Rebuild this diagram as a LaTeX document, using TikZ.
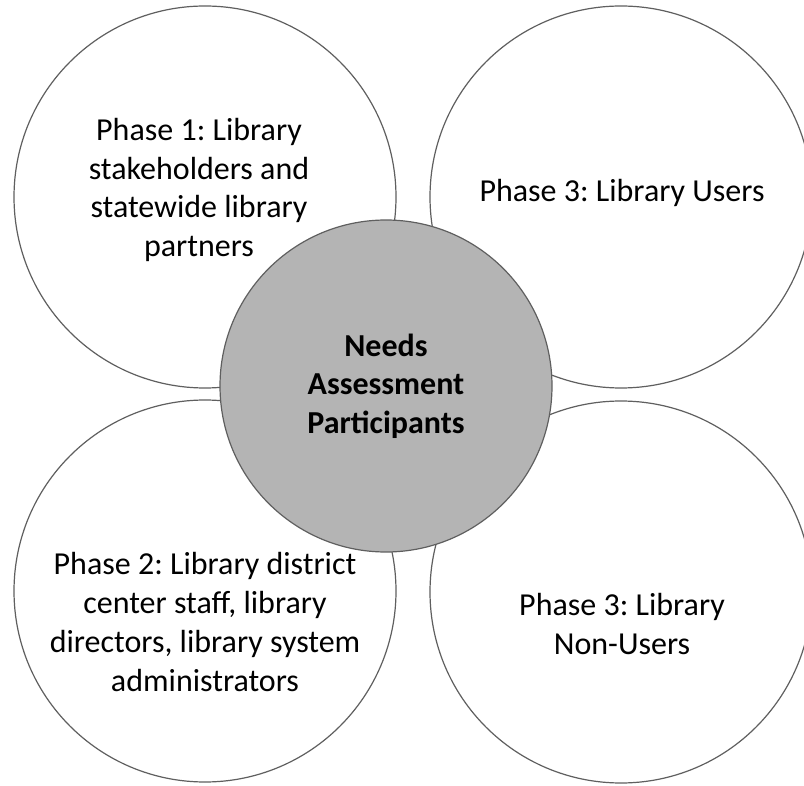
\documentclass[tikz,border=0pt]{standalone}
\usepackage{fontspec}
\setmainfont{Carlito}
\frenchspacing
\definecolor{linegray}{RGB}{95,95,95}
\definecolor{hubgray}{RGB}{180,180,180}
\begin{document}
\begin{tikzpicture}[x=1pt,y=-1pt,
  ring/.style={circle, draw=linegray, line width=1.2pt, fill=white, minimum size=382pt, inner sep=0pt},
  hub/.style={circle, draw=linegray, line width=1.2pt, fill=hubgray, minimum size=332pt, inner sep=0pt,
    align=center, font=\fontsize{32}{38.7}\selectfont\bfseries},
  txt/.style={align=center, font=\fontsize{32}{38.7}\selectfont, inner sep=0pt}]
\useasboundingbox (0,0) rectangle (804,786);
\clip (0,0) rectangle (804,786);
\node[ring] (c1) at (205,197) {};
\node[ring] (c2) at (621,197) {};
\node[ring] (c3) at (205,591) {};
\node[ring] (c4) at (621,592) {};
\node[txt] (t1) at (199,190) {Phase 1: Library\\stakeholders and\\statewide library\\partners};
\node[txt] (t2) at (622,193) {Phase 3: Library Users};
\node[txt] (t3) at (205,622) {Phase 2: Library district\\center staff, library\\directors, library system\\administrators};
\node[txt] (t4) at (622,624) {Phase 3: Library\\Non-Users};
\node[hub] (hub) at (386,386) {Needs\\Assessment\\Participants};
\end{tikzpicture}
\end{document}
